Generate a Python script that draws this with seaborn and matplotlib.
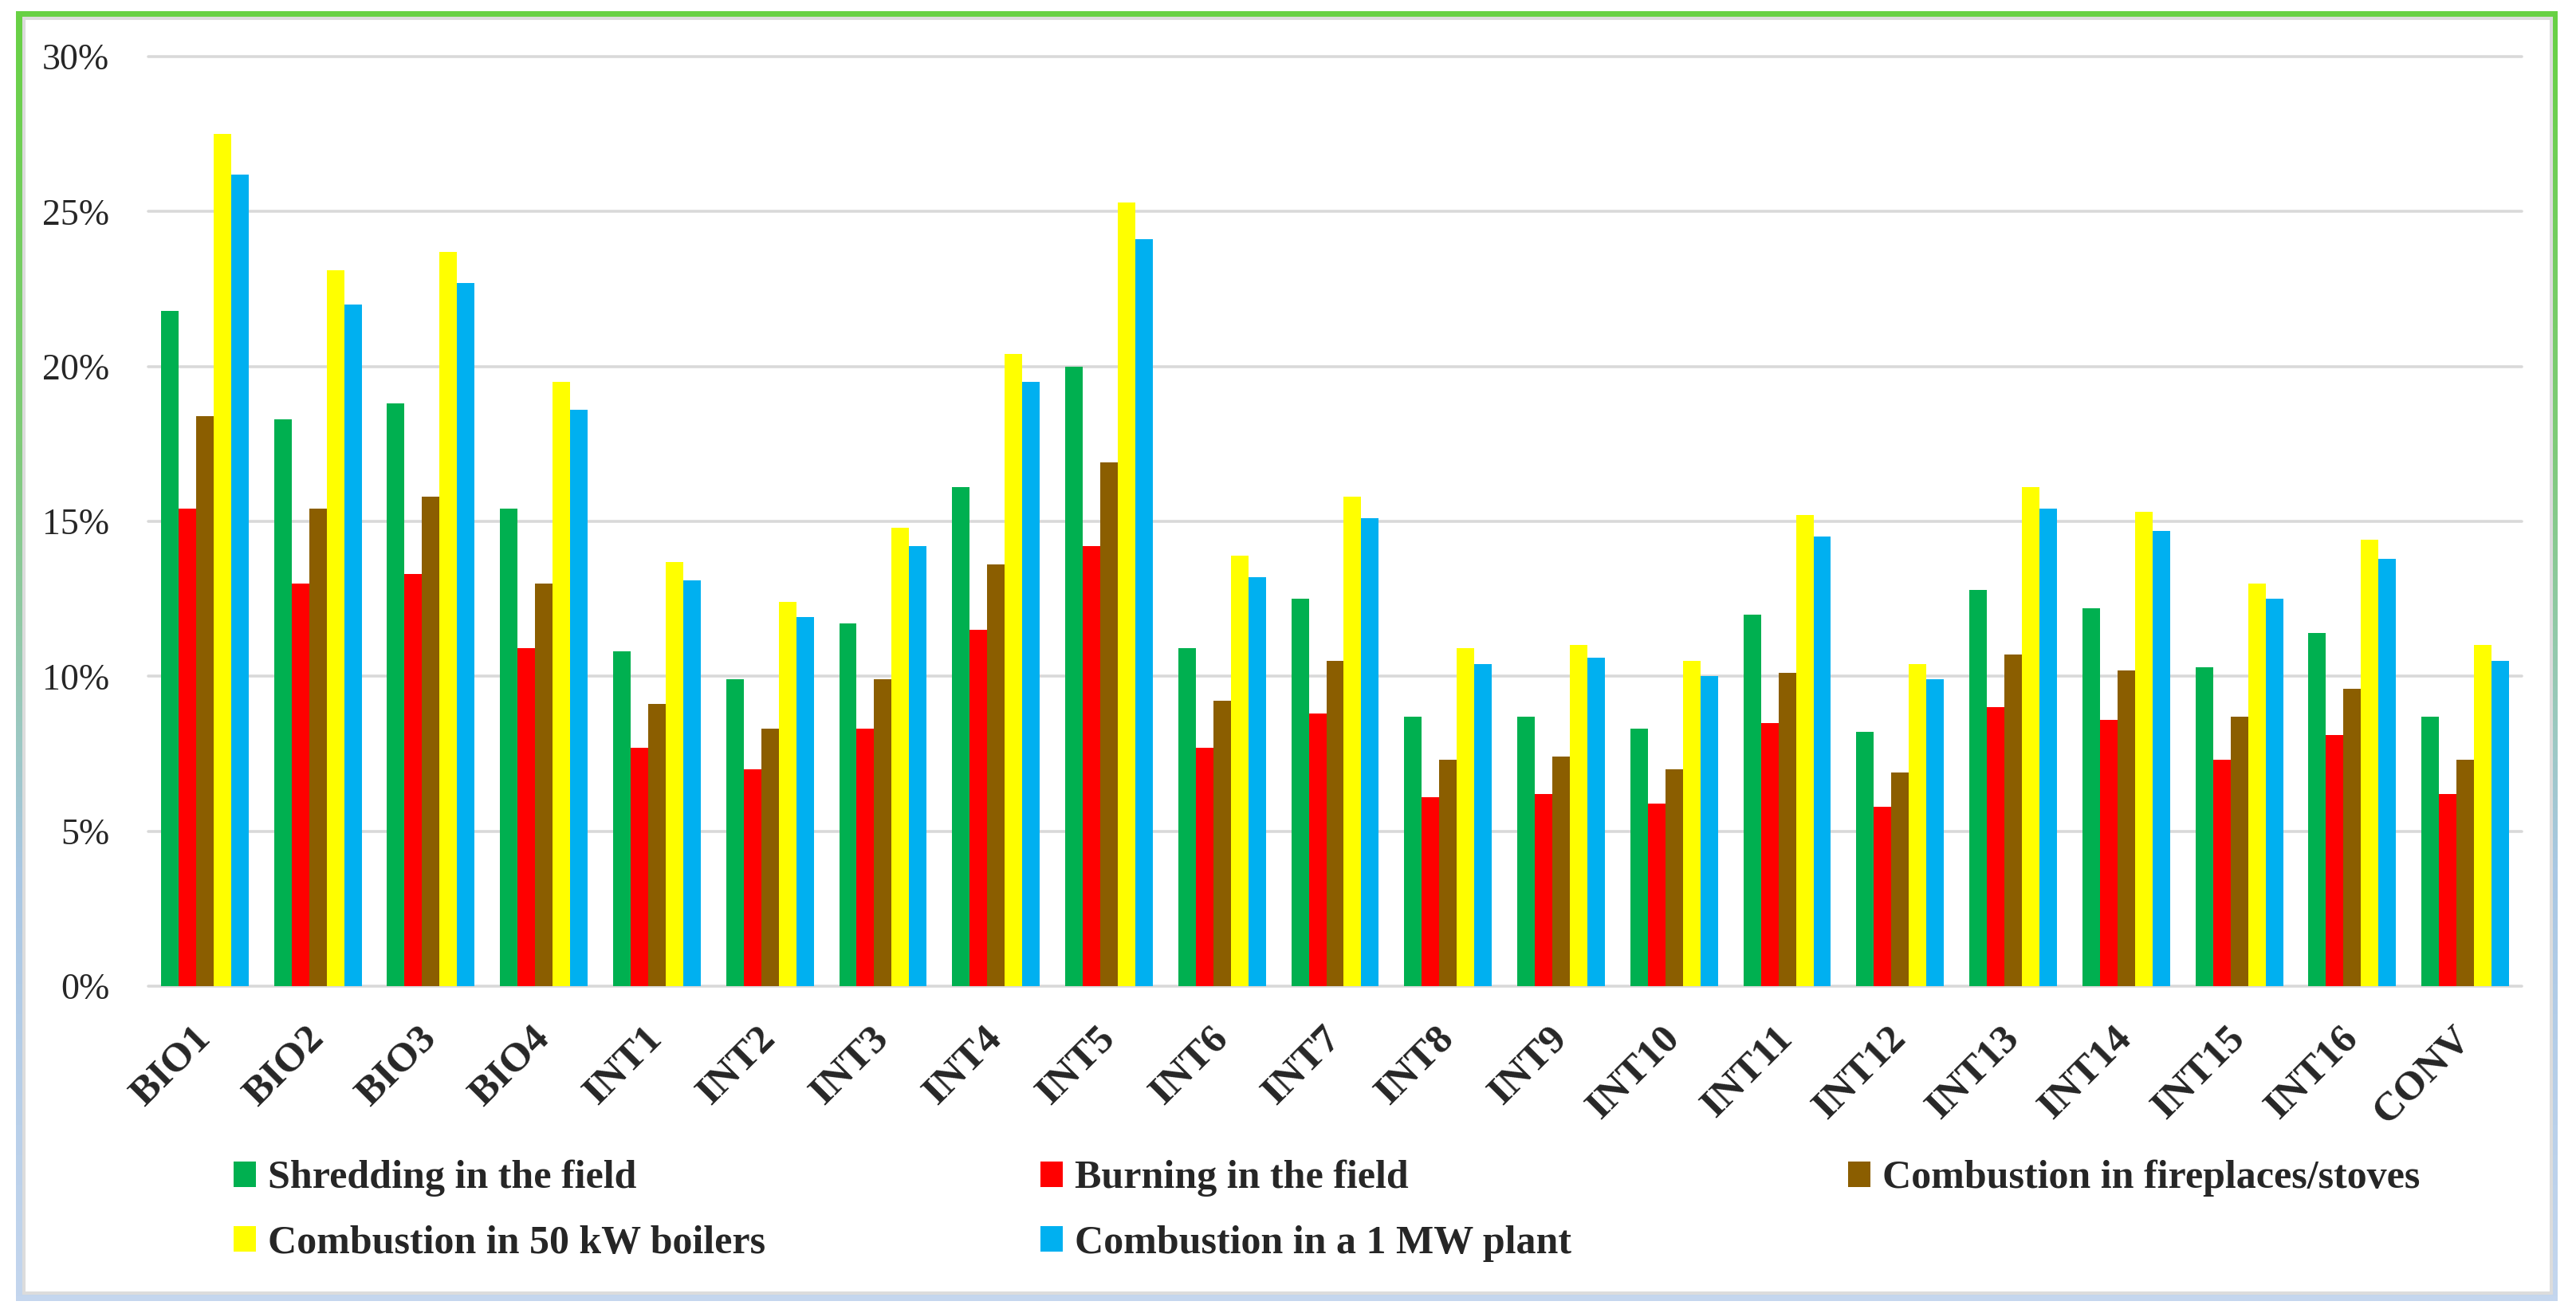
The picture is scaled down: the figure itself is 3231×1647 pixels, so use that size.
import numpy as np
import pandas as pd
import matplotlib
matplotlib.use("Agg")
import matplotlib.pyplot as plt
import matplotlib.transforms as mtransforms
from matplotlib.colors import LinearSegmentedColormap
from matplotlib.patches import Rectangle
from matplotlib.ticker import MultipleLocator, PercentFormatter
import seaborn as sns

# -----------------------------------
# Data (values in %)
# -----------------------------------

systems = ["BIO1", "BIO2", "BIO3", "BIO4", "INT1", "INT2", "INT3", "INT4", "INT5",
           "INT6", "INT7", "INT8", "INT9", "INT10", "INT11", "INT12", "INT13",
           "INT14", "INT15", "INT16", "CONV"]

shredding = [21.8, 18.3, 18.8, 15.4, 10.8, 9.9, 11.7, 16.1, 20.0, 10.9, 12.5,
             8.7, 8.7, 8.3, 12.0, 8.2, 12.8, 12.2, 10.3, 11.4, 8.7]
burning = [15.4, 13.0, 13.3, 10.9, 7.7, 7.0, 8.3, 11.5, 14.2, 7.7, 8.8,
           6.1, 6.2, 5.9, 8.5, 5.8, 9.0, 8.6, 7.3, 8.1, 6.2]
fireplaces = [18.4, 15.4, 15.8, 13.0, 9.1, 8.3, 9.9, 13.6, 16.9, 9.2, 10.5,
              7.3, 7.4, 7.0, 10.1, 6.9, 10.7, 10.2, 8.7, 9.6, 7.3]
boilers_50kw = [27.5, 23.1, 23.7, 19.5, 13.7, 12.4, 14.8, 20.4, 25.3, 13.9, 15.8,
                10.9, 11.0, 10.5, 15.2, 10.4, 16.1, 15.3, 13.0, 14.4, 11.0]
plant_1mw = [26.2, 22.0, 22.7, 18.6, 13.1, 11.9, 14.2, 19.5, 24.1, 13.2, 15.1,
             10.4, 10.6, 10.0, 14.5, 9.9, 15.4, 14.7, 12.5, 13.8, 10.5]

practices = ["Shredding in the field", "Burning in the field",
             "Combustion in fireplaces/stoves", "Combustion in 50 kW boilers",
             "Combustion in a 1 MW plant"]
colors = ["#00B050", "#FF0000", "#8B5E00", "#FFFF00", "#00B0F0"]

rows = []
for name, vals in zip(practices, [shredding, burning, fireplaces, boilers_50kw, plant_1mw]):
    for s, v in zip(systems, vals):
        rows.append({"System": s, "Practice": name, "Share": v / 100})
df = pd.DataFrame(rows)

# -----------------------------------
# Figure
# -----------------------------------

sns.set_theme(style="white")
plt.rcParams["font.family"] = ["Liberation Serif", "DejaVu Serif"]

W, H = 3231, 1647
fig = plt.figure(figsize=(W / 100, H / 100), dpi=100)
fig.patch.set_facecolor("white")

# gradient frame around the chart
bg = fig.add_axes([0, 0, 1, 1], zorder=0)
frame_cmap = LinearSegmentedColormap.from_list(
    "frame", ["#68D144", "#7FCB78", "#A9C7E4", "#C4D6EE"])
grad = np.linspace(0, 1, 256)[:, None]
bg.imshow(grad, extent=[20, 3208, 1632, 14], cmap=frame_cmap, aspect="auto")
bg.add_patch(Rectangle((30, 23), 3200 - 30, 1622 - 23, facecolor="white",
                       edgecolor="#DCDCDC", linewidth=2.9))
bg.set_xlim(0, W)
bg.set_ylim(H, 0)
bg.axis("off")

ax = fig.add_axes([186 / W, 1 - 1237 / H, (3163 - 186) / W, (1237 - 71) / H], zorder=2)
ax.patch.set_alpha(0)

sns.barplot(data=df, x="System", y="Share", hue="Practice", palette=colors,
            width=0.775, saturation=1, linewidth=0, edgecolor="none", ax=ax)

handles = [c.patches[0] for c in ax.containers]
ax.get_legend().remove()

# axes styling
ax.set_ylim(0, 0.30)
ax.yaxis.set_major_locator(MultipleLocator(0.05))
ax.yaxis.set_major_formatter(PercentFormatter(1.0, decimals=0))
ax.set_xlabel("")
ax.set_ylabel("")
ax.set_axisbelow(True)
ax.yaxis.grid(True, color="#D9D9D9", linewidth=2.6)
for line in ax.get_ygridlines():
    line.set_clip_on(False)
for sp in ax.spines.values():
    sp.set_visible(False)

ax.tick_params(axis="y", length=0, pad=35, labelsize=33)
ax.tick_params(axis="x", length=0, pad=42, labelsize=37)
offset = mtransforms.ScaledTranslation(0.0, 0, fig.dpi_scale_trans)
for lab in ax.get_xticklabels():
    lab.set_rotation(45)
    lab.set_ha("right")
    lab.set_va("center")
    lab.set_rotation_mode("anchor")
    lab.set_fontweight("bold")
    lab.set_transform(lab.get_transform() + offset)

# legend in three columns, filled row by row
legend_cols = [
    ([handles[0], handles[3]], [practices[0], practices[3]], 293),
    ([handles[1], handles[4]], [practices[1], practices[4]], 1305),
    ([handles[2]], [practices[2]], 2318),
]
for hs, labels, x0 in legend_cols:
    fig.legend(hs, labels, loc="upper left", bbox_to_anchor=(x0 / W, 1 - 1455 / H),
               frameon=False, borderpad=0, borderaxespad=0,
               handlelength=0.56, handleheight=0.6, handletextpad=0.3,
               labelspacing=0.71, prop={"size": 36, "weight": "bold"})

fig.savefig("out.png", dpi=100)
plt.close(fig)
print("out.png generated")
